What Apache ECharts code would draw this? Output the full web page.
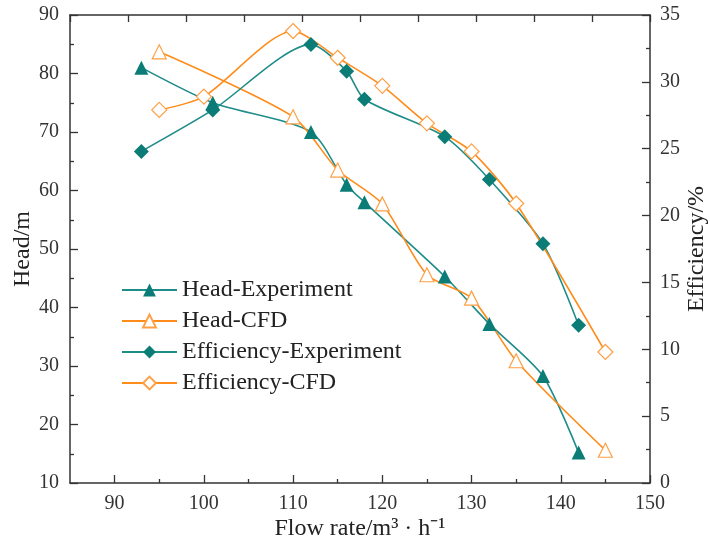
<!DOCTYPE html>
<html>
<head>
<meta charset="utf-8">
<script src="https://cdn.jsdelivr.net/npm/echarts@6/dist/echarts.min.js"></script>
<style>html,body{margin:0;padding:0;background:#fff;}#c{width:710px;height:545px;}</style>
</head>
<body>
<div id="c"></div>
<script>
// ---- data ----
const xHeadExp = [93, 101, 112, 116, 118, 127, 132, 138, 142];
const headExp  = [81, 75, 70, 61, 58, 45.3, 37.2, 28.3, 15.2];
const xHeadCfd = [95, 110, 115, 120, 125, 130, 135, 145];
const headCfd  = [83.7, 72.6, 63.5, 57.7, 45.6, 41.6, 30.9, 15.6];
const xEffExp  = [93, 101, 112, 116, 118, 127, 132, 138, 142];
const effExp   = [24.8, 27.9, 32.8, 30.8, 28.7, 25.9, 22.7, 17.9, 11.8];
const xEffCfd  = [95, 100, 110, 115, 120, 125, 130, 135, 145];
const effCfd   = [27.9, 28.9, 33.8, 31.8, 29.7, 26.9, 24.8, 20.9, 9.8];
const xMajor = [90, 100, 110, 120, 130, 140, 150];
const xMinor = [95, 105, 115, 125, 135, 145];
const seriesNames = ['Head-Experiment', 'Head-CFD', 'Efficiency-Experiment', 'Efficiency-CFD'];

const pairs = (xs, ys) => xs.map((x, i) => [x, ys[i]]);
const FONT = '"Liberation Serif", "Times New Roman", serif';
const TEAL = '#1e8c88', TEALM = '#0b7c76', ORANGE = '#ff8c1a', ORANGEM = '#ff9f45';
const AX = '#333';
const SMOOTH = 0.25;

const chart = echarts.init(document.getElementById('c'));
chart.setOption({
  animation: false,
  backgroundColor: '#fff',
  grid: { left: 70, right: 60, top: 15, bottom: 62, containLabel: false, outerBoundsMode: 'none' },
  legend: {
    orient: 'vertical', left: 116, top: 273, itemWidth: 55, itemHeight: 16, itemGap: 7,
    textStyle: { fontFamily: FONT, fontSize: 24, color: '#222', lineHeight: 24 },
    data: seriesNames
  },
  xAxis: [
    {
      type: 'value', min: 85, max: 150, position: 'bottom',
      name: 'Flow rate/m³ · h⁻¹', nameLocation: 'middle', nameGap: 34, nameMoveOverlap: false,
      nameTextStyle: { fontFamily: FONT, fontSize: 24, color: '#222' },
      axisLine: { lineStyle: { color: AX, width: 1.5 } },
      axisTick: { inside: true, length: 8, customValues: xMajor, lineStyle: { color: AX, width: 1.3 } },
      axisLabel: { customValues: xMajor, fontFamily: FONT, fontSize: 20, color: '#333', margin: 11 },
      splitLine: { show: false }
    },
    {
      type: 'value', min: 85, max: 150, position: 'bottom',
      axisLine: { show: false },
      axisTick: { inside: true, length: 4, customValues: xMinor, lineStyle: { color: AX, width: 1.3 } },
      axisLabel: { show: false },
      splitLine: { show: false }
    },
    {
      type: 'value', min: 0, max: 10, interval: 1, position: 'top',
      axisLine: { lineStyle: { color: AX, width: 1.5 } },
      axisTick: { inside: true, length: 7, lineStyle: { color: AX, width: 1.3 } },
      axisLabel: { show: false },
      splitLine: { show: false }
    }
  ],
  yAxis: [
    {
      type: 'value', min: 10, max: 90, interval: 10, position: 'left',
      name: 'Head/m', nameLocation: 'middle', nameGap: 35, nameMoveOverlap: false,
      nameTextStyle: { fontFamily: FONT, fontSize: 24, color: '#222' },
      axisLine: { show: true, lineStyle: { color: AX, width: 1.5 } },
      axisTick: { show: true, inside: true, length: 8, lineStyle: { color: AX, width: 1.3 } },
      minorTick: { show: true, splitNumber: 2, length: 4, lineStyle: { color: AX, width: 1.3 } },
      axisLabel: { fontFamily: FONT, fontSize: 20, color: '#333', margin: 11 },
      splitLine: { show: false }
    },
    {
      type: 'value', min: 0, max: 35, interval: 5, position: 'right',
      name: 'Efficiency/%', nameLocation: 'middle', nameGap: 35, nameRotate: 90, nameMoveOverlap: false,
      nameTextStyle: { fontFamily: FONT, fontSize: 24, color: '#222' },
      axisLine: { show: true, lineStyle: { color: AX, width: 1.5 } },
      axisTick: { show: true, inside: true, length: 8, lineStyle: { color: AX, width: 1.3 } },
      minorTick: { show: true, splitNumber: 2, length: 4, lineStyle: { color: AX, width: 1.3 } },
      axisLabel: { fontFamily: FONT, fontSize: 20, color: '#333', margin: 10 },
      splitLine: { show: false }
    }
  ],
  series: [
    {
      name: seriesNames[0], type: 'line', xAxisIndex: 0, yAxisIndex: 0, smooth: SMOOTH,
      data: pairs(xHeadExp, headExp), symbol: 'triangle', symbolSize: 14,
      lineStyle: { color: TEAL, width: 1.6 }, itemStyle: { color: TEALM }
    },
    {
      name: seriesNames[1], type: 'line', xAxisIndex: 0, yAxisIndex: 0, smooth: SMOOTH,
      data: pairs(xHeadCfd, headCfd), symbol: 'triangle', symbolSize: 14,
      lineStyle: { color: ORANGE, width: 1.6 }, itemStyle: { color: '#fff', borderColor: ORANGEM, borderWidth: 1.2 }
    },
    {
      name: seriesNames[2], type: 'line', xAxisIndex: 0, yAxisIndex: 1, smooth: SMOOTH,
      data: pairs(xEffExp, effExp), symbol: 'diamond', symbolSize: 15,
      lineStyle: { color: TEAL, width: 1.6 }, itemStyle: { color: TEALM }
    },
    {
      name: seriesNames[3], type: 'line', xAxisIndex: 0, yAxisIndex: 1, smooth: SMOOTH,
      data: pairs(xEffCfd, effCfd), symbol: 'diamond', symbolSize: 15,
      lineStyle: { color: ORANGE, width: 1.6 }, itemStyle: { color: '#fff', borderColor: ORANGEM, borderWidth: 1.2 }
    }
  ]
});
</script>
</body>
</html>
